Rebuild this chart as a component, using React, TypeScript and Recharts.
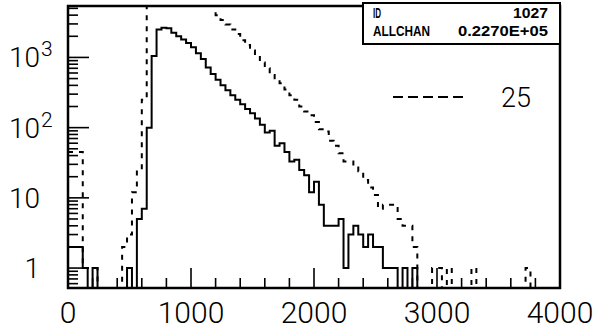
import React from "react";
import { LineChart, Line, XAxis, YAxis, ReferenceArea } from "recharts";

// histogram 1027, 100 bins of 40 channels each
const BIN_WIDTH = 40;

const solidCounts = [
  2, 2, 2, 1, 0, 1, 0, 0, 0, 0,
  0, 0, 1, 0, 5, 7, 100, 1050, 2500, 2650,
  2600, 2250, 2000, 1800, 1600, 1400, 1150, 950, 720, 580,
  480, 400, 340, 290, 250, 215, 185, 160, 135, 110,
  85, 90, 55, 60, 45, 33, 35, 25, 21, 12,
  17, 8, 4, 4, 4, 5, 1, 3, 4, 3,
  2, 3, 2, 2, 1, 1, 1, 0, 1, 0,
  1, 0, 0, 0, 0, 0, 0, 0, 0, 0,
  0, 0, 0, 0, 0, 0, 0, 0, 0, 0,
  0, 0, 0, 0, 0, 0, 0, 0, 0, 0,
];

// run 25 (dashed); bins 16-29 run off the top of the frame
const dashedCounts = [
  45, 45, 45, 1, 1, 1, 0, 0, 0, 0,
  0, 2, 3, 12, 25, 250, 6500, 9000, 12000, 13000,
  13000, 12500, 11500, 10500, 9500, 8500, 7500, 6800, 6000, 5600,
  4000, 3400, 2950, 2500, 2150, 1750, 1500, 1250, 1050, 850,
  700, 560, 480, 430, 350, 290, 250, 200, 170, 150,
  120, 95, 88, 65, 55, 43, 33, 33, 27, 24,
  18, 14, 11, 7, 8, 8, 8, 5, 4, 4,
  2, 0, 0, 0, 1, 1, 0, 1, 0, 0,
  0, 0, 1, 0, 0, 0, 0, 0, 0, 0,
  0, 0, 0, 1, 0, 0, 0, 0, 0, 0,
];

const xTicks = [
  0, 200, 400, 600, 800, 1000, 1200, 1400, 1600, 1800, 2000,
  2200, 2400, 2600, 2800, 3000, 3200, 3400, 3600, 3800, 4000,
];
const xLabels = [0, 1000, 2000, 3000, 4000];

const yMajor = [1, 10, 100, 1000];
const yMinor = [
  0.6, 0.7, 0.8, 0.9,
  2, 3, 4, 5, 6, 7, 8, 9,
  20, 30, 40, 50, 60, 70, 80, 90,
  200, 300, 400, 500, 600, 700, 800, 900,
  2000, 3000, 4000, 5000,
];
const yExponent: Record<number, string> = { 100: "2", 1000: "3" };

const legendLabel = "25";
const statRows = [
  ["ID", "1027"],
  ["ALLCHAN", "0.2270E+05"],
];

const Y_MIN = 0.52;
const Y_MAX = 5400;
const FLOOR = 0.1; // empty bins drawn below the frame (log axis)

const rows = solidCounts.map((s, i) => ({
  x: i * BIN_WIDTH,
  solid: s > 0 ? s : FLOOR,
  dashed: dashedCounts[i] > 0 ? dashedCounts[i] : FLOOR,
}));
rows.push({ x: 4000, solid: FLOOR, dashed: FLOOR });

const FONT = "Roboto, 'Liberation Sans', sans-serif";
const BOX_FONT = "'Liberation Sans', Arial, sans-serif";

function XTick(props: any) {
  const { x, y, payload } = props;
  const v = payload.value;
  const major = v % 1000 === 0;
  return (
    <g>
      <line x1={x} y1={y} x2={x} y2={y - (major ? 20 : 10)} stroke="#000" strokeWidth={1.6} />
      {xLabels.includes(v) && (
        <text x={x} y={y + 35} textAnchor="middle" fontFamily={FONT} fontWeight={300} fontSize={30} fill="#000">
          {v}
        </text>
      )}
    </g>
  );
}

function YTick(props: any) {
  const { x, y, payload } = props;
  const v = payload.value;
  const major = yMajor.includes(v);
  const exp = yExponent[v];
  return (
    <g>
      <line x1={x} y1={y} x2={x + (major ? 21 : 10)} y2={y} stroke="#000" strokeWidth={1.6} />
      {major && (
        <text x={40} y={y + 10} textAnchor="end" fontFamily={FONT} fontWeight={300} fontSize={28} fill="#000">
          {exp ? "10" : String(v)}
        </text>
      )}
      {exp && (
        <text x={41} y={y - 1} fontFamily={FONT} fontWeight={300} fontSize={21} fill="#000">
          {exp}
        </text>
      )}
    </g>
  );
}

export default function App() {
  return (
    <div style={{ position: "absolute", left: 0, top: 0, width: 597, height: 331, background: "#fff" }}>
      <LineChart width={597} height={331} data={rows} margin={{ top: 6, right: 37, bottom: 0, left: 0 }}>
        <XAxis
          dataKey="x"
          type="number"
          domain={[0, 4000]}
          ticks={xTicks}
          interval={0}
          height={43}
          tickSize={0}
          tickMargin={0}
          axisLine={false}
          tickLine={false}
          tick={<XTick />}
          allowDataOverflow
        />
        <YAxis
          type="number"
          scale="log"
          domain={[Y_MIN, Y_MAX]}
          ticks={[...yMajor, ...yMinor]}
          interval={0}
          width={68}
          tickSize={0}
          tickMargin={0}
          axisLine={false}
          tickLine={false}
          tick={<YTick />}
          allowDataOverflow
        />
        <Line
          type="stepAfter"
          dataKey="dashed"
          name={legendLabel}
          stroke="#000"
          strokeWidth={2}
          strokeDasharray="5 6"
          dot={false}
          activeDot={false}
          isAnimationActive={false}
        />
        <Line
          type="stepAfter"
          dataKey="solid"
          name="1027"
          stroke="#000"
          strokeWidth={2}
          dot={false}
          activeDot={false}
          isAnimationActive={false}
        />
        <ReferenceArea x1={0} x2={4000} y1={Y_MIN} y2={Y_MAX} fill="none" stroke="#000" strokeWidth={2.5} />
      </LineChart>
      <svg width={597} height={331} style={{ position: "absolute", left: 0, top: 0, pointerEvents: "none" }}>
        {/* legend */}
        <line x1={393} y1={97} x2={463} y2={97} stroke="#000" strokeWidth={2} strokeDasharray="10 5" />
        <text x={501} y={107} fontFamily={FONT} fontWeight={300} fontSize={27} fill="#000">
          {legendLabel}
        </text>
        {/* statistics box */}
        <rect x={363} y={3} width={197} height={41} fill="#fff" stroke="#000" strokeWidth={2} />
        <text x={373} y={18} fontFamily={BOX_FONT} fontWeight={700} fontSize={14} textLength={8} lengthAdjust="spacingAndGlyphs">
          {statRows[0][0]}
        </text>
        <text x={513} y={18} fontFamily={BOX_FONT} fontWeight={700} fontSize={14} textLength={35} lengthAdjust="spacingAndGlyphs">
          {statRows[0][1]}
        </text>
        <text x={373} y={36} fontFamily={BOX_FONT} fontWeight={700} fontSize={14} textLength={57} lengthAdjust="spacingAndGlyphs">
          {statRows[1][0]}
        </text>
        <text x={458} y={36} fontFamily={BOX_FONT} fontWeight={700} fontSize={14} textLength={90} lengthAdjust="spacingAndGlyphs">
          {statRows[1][1]}
        </text>
      </svg>
    </div>
  );
}
